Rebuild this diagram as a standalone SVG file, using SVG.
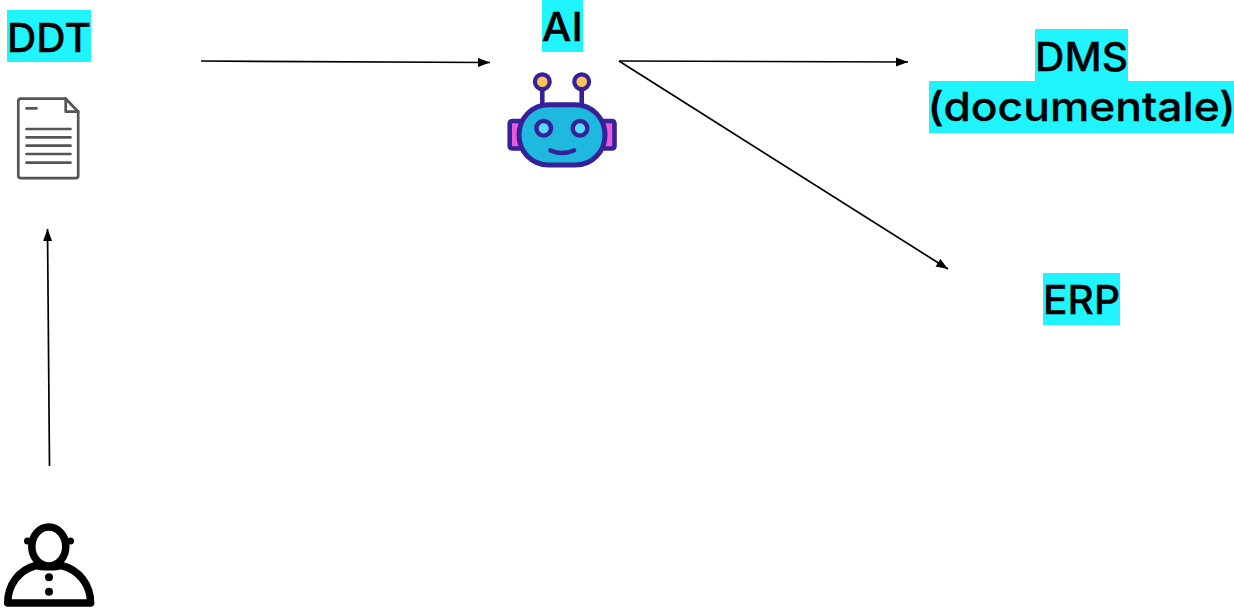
<svg xmlns="http://www.w3.org/2000/svg" width="1234" height="608" viewBox="0 0 1234 608">
  <style>
    .bg { fill: #1ff4ff; }
    .lbl { font-family: "Inter", "Noto Sans", sans-serif; font-size: 40px; font-weight: 500; fill: #000; text-anchor: middle; stroke: #000; stroke-width: 0.3; }
    .conn { stroke: #000; stroke-width: 1.7; fill: none; marker-end: url(#arrow); }
    .ink { stroke: #36219a; fill: none; stroke-width: 4.6; stroke-linecap: round; stroke-linejoin: round; }
    .doc { stroke: #555; fill: none; stroke-width: 2.7; stroke-linecap: round; stroke-linejoin: round; }
    .per { stroke: #000; fill: none; stroke-width: 7.5; stroke-linejoin: round; }
  </style>
  <defs>
    <marker id="arrow" markerUnits="userSpaceOnUse" markerWidth="13" markerHeight="10" refX="12" refY="4.5" orient="auto">
      <path d="M0 0 L12 4.5 L0 9 Z" fill="#000"/>
    </marker>
  </defs>
  <rect width="1234" height="608" fill="#fff"/>
  <g id="connectors">
    <line class="conn" x1="201" y1="61" x2="490" y2="62.5"/>
    <line class="conn" x1="619" y1="61" x2="908" y2="62"/>
    <line class="conn" x1="619" y1="61" x2="948" y2="269"/>
    <line class="conn" x1="49.5" y1="466" x2="47.5" y2="229"/>
  </g>
  <g id="ddt">
    <rect class="bg" x="7" y="10" width="84" height="52"/>
    <text class="lbl" x="49" y="52" textLength="84" lengthAdjust="spacingAndGlyphs">DDT</text>
    <path class="doc" d="M20 98.7 H65.7 L78.2 111.7 V175.5 Q78.2 178.2 75.5 178.2 H21 Q18.3 178.2 18.3 175.5 V101.4 Q18.3 98.7 21 98.7 Z"/>
    <path class="doc" d="M65.7 98.7 V111.7 H78.2"/>
    <path class="doc" d="M26.5 108.3 H36.5 M26.5 129 H70.5 M26.5 137.3 H70.5 M26.5 145.7 H70.5 M26.5 154 H70.5 M26.5 162.7 H70.5"/>
  </g>
  <g id="ai">
    <rect class="bg" x="542" y="0" width="41" height="52"/>
    <text class="lbl" x="562.3" y="41" textLength="41" lengthAdjust="spacingAndGlyphs">AI</text>
    <path d="M509.7 124 Q509.7 121 512.7 121 H522 V148.5 H512.7 Q509.7 148.5 509.7 145.5 Z" fill="#e85bd8" stroke="#36219a" stroke-width="4.6" stroke-linejoin="round"/>
    <path d="M614.5 124 Q614.5 121 611.5 121 H602 V148.5 H611.5 Q614.5 148.5 614.5 145.5 Z" fill="#e85bd8" stroke="#36219a" stroke-width="4.6" stroke-linejoin="round"/>
    <path class="ink" d="M542.3 90 V105 M581.7 90 V105"/>
    <circle cx="542.3" cy="81.7" r="7.4" fill="#ffc35a" stroke="#36219a" stroke-width="4.2"/>
    <circle cx="581.7" cy="81.7" r="7.4" fill="#ffc35a" stroke="#36219a" stroke-width="4.2"/>
    <path d="M549 104.7 H575 C593 104.7 605 119 605 135 C605 151 593 165.1 575 165.1 H549 C531 165.1 519 151 519 135 C519 119 531 104.7 549 104.7 Z" fill="#1fb9e0" stroke="#36219a" stroke-width="5"/>
    <circle cx="543.7" cy="128.3" r="7.3" fill="#55dcff" stroke="#36219a" stroke-width="4.4"/>
    <circle cx="580" cy="128.3" r="7.3" fill="#55dcff" stroke="#36219a" stroke-width="4.4"/>
    <path class="ink" d="M550.5 150.5 Q562 155.5 574 150.5"/>
  </g>
  <g id="dms">
    <rect class="bg" x="1035" y="29" width="93" height="52"/>
    <rect class="bg" x="929" y="81" width="305" height="52"/>
    <text class="lbl" x="1081.5" y="70.5" textLength="93" lengthAdjust="spacingAndGlyphs">DMS</text>
    <text class="lbl" x="1081.5" y="120.5" textLength="308" lengthAdjust="spacingAndGlyphs">(documentale)</text>
  </g>
  <g id="erp">
    <rect class="bg" x="1043" y="273" width="77" height="52"/>
    <text class="lbl" x="1081.5" y="314" textLength="77" lengthAdjust="spacingAndGlyphs">ERP</text>
  </g>
  <g id="user">
    <circle cx="27.5" cy="541" r="3.5"/>
    <circle cx="70.5" cy="541" r="3.5"/>
    <ellipse class="per" cx="48.8" cy="546.5" rx="17" ry="19.5"/>
    <path class="per" d="M7.7 603 C7.7 586 18 570 36 565.5 C42 567 55 567 61.5 565.5 C80 570 90.6 586 90.6 603 Z"/>
    <circle cx="49" cy="577.3" r="4"/>
    <circle cx="49" cy="591.7" r="4"/>
  </g>
</svg>
